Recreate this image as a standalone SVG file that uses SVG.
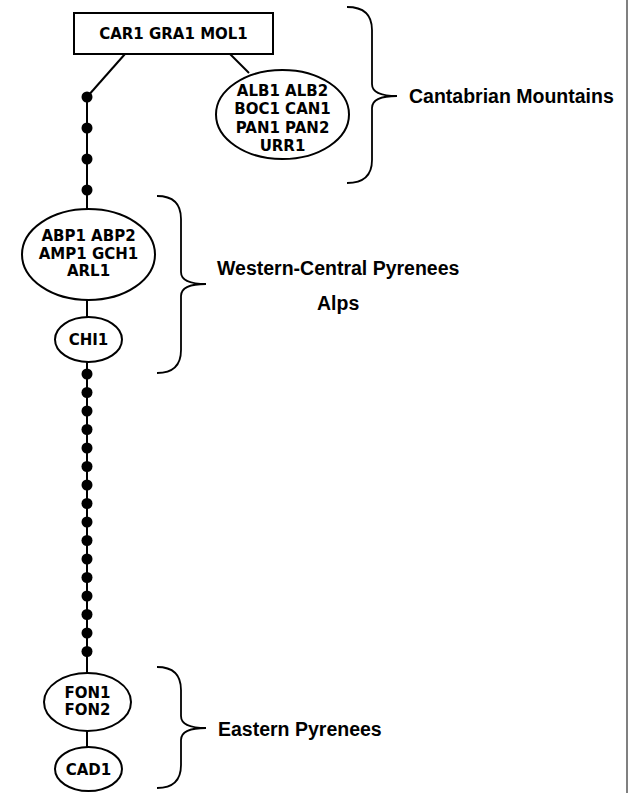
<svg xmlns="http://www.w3.org/2000/svg" width="639" height="793" viewBox="0 0 639 793">
  <style>
    .node { fill: #fff; stroke: #000; stroke-width: 2; }
    .lbl { font-family: "DejaVu Sans", Verdana, sans-serif; font-weight: bold; font-size: 15px; text-anchor: middle; fill: #000; }
    .grp { font-family: "Liberation Sans", Arial, sans-serif; font-weight: bold; font-size: 19.5px; fill: #000; }
    .edge { stroke: #000; stroke-width: 2; fill: none; }
    .brace { stroke: #000; stroke-width: 1.8; fill: none; }
    .dot { fill: #000; }
  </style>
  <rect width="639" height="793" fill="#fff"/>
  <line x1="627" y1="0" x2="627" y2="793" stroke="#808080" stroke-width="2"/>

  <!-- connectors -->
  <g id="connectors">
    <line class="edge" x1="125" y1="54" x2="87" y2="97"/>
    <line class="edge" x1="230" y1="54" x2="249" y2="73"/>
    <line class="edge" x1="87" y1="97" x2="87" y2="209"/>
    <line class="edge" x1="87" y1="300" x2="87" y2="317"/>
    <line class="edge" x1="87" y1="362" x2="87" y2="673"/>
    <line class="edge" x1="87" y1="731" x2="87" y2="747"/>
    <g id="chain-top">
      <circle class="dot" cx="87" cy="97" r="5.5"/>
      <circle class="dot" cx="87" cy="128" r="5.5"/>
      <circle class="dot" cx="87" cy="159" r="5.5"/>
      <circle class="dot" cx="87" cy="190" r="5.5"/>
    </g>
    <g id="chain-bottom">
      <circle class="dot" cx="87" cy="374" r="5.5"/>
      <circle class="dot" cx="87" cy="392.5" r="5.5"/>
      <circle class="dot" cx="87" cy="411" r="5.5"/>
      <circle class="dot" cx="87" cy="429.5" r="5.5"/>
      <circle class="dot" cx="87" cy="448" r="5.5"/>
      <circle class="dot" cx="87" cy="466.5" r="5.5"/>
      <circle class="dot" cx="87" cy="485" r="5.5"/>
      <circle class="dot" cx="87" cy="503.5" r="5.5"/>
      <circle class="dot" cx="87" cy="522" r="5.5"/>
      <circle class="dot" cx="87" cy="540.5" r="5.5"/>
      <circle class="dot" cx="87" cy="559" r="5.5"/>
      <circle class="dot" cx="87" cy="577.5" r="5.5"/>
      <circle class="dot" cx="87" cy="596" r="5.5"/>
      <circle class="dot" cx="87" cy="614.5" r="5.5"/>
      <circle class="dot" cx="87" cy="633" r="5.5"/>
      <circle class="dot" cx="87" cy="651.5" r="5.5"/>
    </g>
  </g>

  <g id="n-car-gra-mol">
    <rect class="node" x="74" y="13" width="199" height="41"/>
    <text class="lbl" x="173.5" y="39">CAR1 GRA1 MOL1</text>
  </g>

  <g id="n-alb">
    <ellipse class="node" cx="282.5" cy="114.5" rx="66.5" ry="44.5"/>
    <text class="lbl" x="282.5" y="95.5">ALB1 ALB2</text>
    <text class="lbl" x="282.5" y="114">BOC1 CAN1</text>
    <text class="lbl" x="282.5" y="132.5">PAN1 PAN2</text>
    <text class="lbl" x="282.5" y="151">URR1</text>
  </g>

  <g id="n-abp">
    <ellipse class="node" cx="88.5" cy="254.5" rx="66.5" ry="45.5"/>
    <text class="lbl" x="88.5" y="241">ABP1 ABP2</text>
    <text class="lbl" x="88.5" y="258.5">AMP1 GCH1</text>
    <text class="lbl" x="88.5" y="276">ARL1</text>
  </g>

  <g id="n-chi">
    <ellipse class="node" cx="88.5" cy="339.5" rx="33.5" ry="22.5"/>
    <text class="lbl" x="88.5" y="345">CHI1</text>
  </g>

  <g id="n-fon">
    <ellipse class="node" cx="87.5" cy="702" rx="43.5" ry="29"/>
    <text class="lbl" x="87.5" y="697.5">FON1</text>
    <text class="lbl" x="87.5" y="715">FON2</text>
  </g>

  <g id="n-cad">
    <ellipse class="node" cx="88.5" cy="769" rx="33.5" ry="22"/>
    <text class="lbl" x="88.5" y="775">CAD1</text>
  </g>

  <!-- region braces and names -->
  <g id="g-cantabrian">
    <path class="brace" d="M347,7 Q372,7 372,30 L372,84 Q372,96 397,96 Q372,96 372,108 L372,160 Q372,183 347,183"/>
    <text class="grp" x="409" y="103">Cantabrian Mountains</text>
  </g>

  <g id="g-western">
    <path class="brace" d="M157,196 Q181,196 181,219 L181,272 Q181,284 206,284 Q181,284 181,296 L181,350 Q181,373 157,373"/>
    <text class="grp" x="217" y="275">Western-Central Pyrenees</text>
    <text class="grp" x="317" y="310">Alps</text>
  </g>

  <g id="g-eastern">
    <path class="brace" d="M157,667 Q181,667 181,690 L181,716 Q181,728 206,728 Q181,728 181,740 L181,765 Q181,788 157,788"/>
    <text class="grp" x="218" y="736">Eastern Pyrenees</text>
  </g>
</svg>
